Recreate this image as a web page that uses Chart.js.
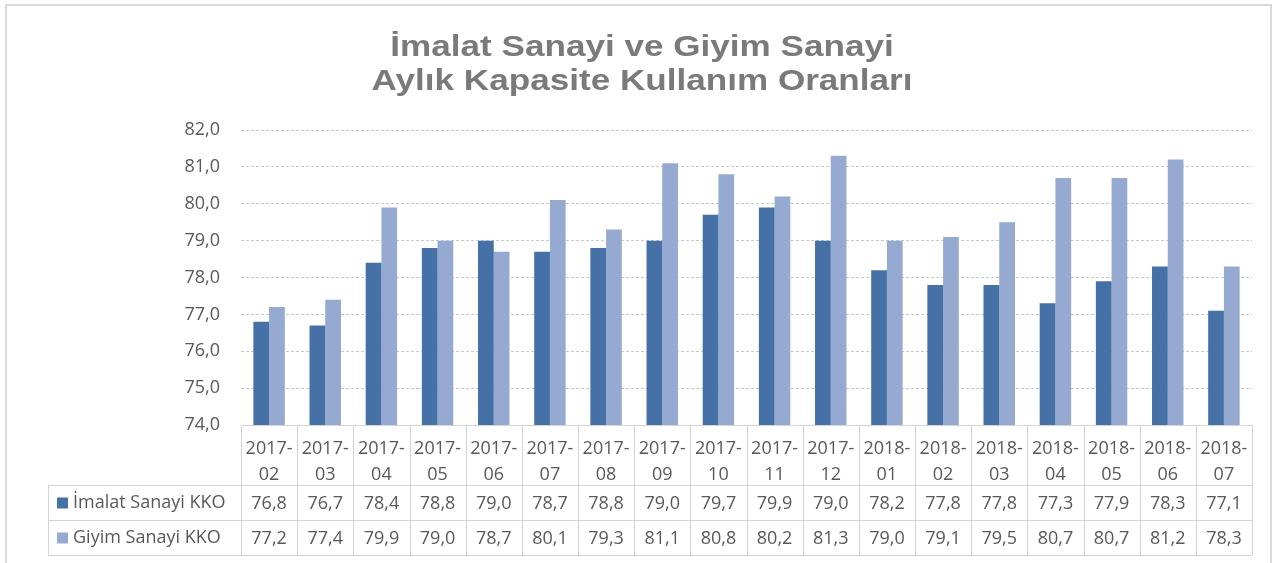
<!DOCTYPE html>
<html><head><meta charset="utf-8">
<script src="https://cdn.jsdelivr.net/npm/chart.js@4.4.1/dist/chart.umd.min.js"></script>
<style>html,body{margin:0;padding:0;background:#fff}#w{width:1278px;height:563px}</style>
</head><body><div id="w"><canvas id="c" width="1278" height="563"></canvas></div>
<script>
const titleLines = ['İmalat Sanayi ve Giyim Sanayi', 'Aylık Kapasite Kullanım Oranları'];
const categories = ['2017-02','2017-03','2017-04','2017-05','2017-06','2017-07','2017-08','2017-09','2017-10','2017-11','2017-12','2018-01','2018-02','2018-03','2018-04','2018-05','2018-06','2018-07'];
const imalatKKO = [76.8,76.7,78.4,78.8,79.0,78.7,78.8,79.0,79.7,79.9,79.0,78.2,77.8,77.8,77.3,77.9,78.3,77.1];
const giyimKKO = [77.2,77.4,79.9,79.0,78.7,80.1,79.3,81.1,80.8,80.2,81.3,79.0,79.1,79.5,80.7,80.7,81.2,78.3];
const seriesNames = ['İmalat Sanayi KKO', 'Giyim Sanayi KKO'];
const seriesColors = ['#4671A6', '#95A9D1'];
const yMin = 74, yMax = 82, yStep = 1;

const fmt = v => v.toFixed(1).replace('.', ',');
const TXT = '#595959';
const LINE = '#d4d4d4';
const FONT = '"Open Sans", "Liberation Sans", sans-serif';

const frame = {
  id: 'frame',
  afterDraw(chart) {
    const ctx = chart.ctx;
    ctx.save();
    ctx.strokeStyle = '#d9d9d9';
    ctx.lineWidth = 2;
    ctx.strokeRect(6, 5, 1265, 580);
    // title
    ctx.fillStyle = '#7a7a7a';
    ctx.font = 'bold 30px "Liberation Sans", Arial, sans-serif';
    ctx.textAlign = 'center';
    ctx.textBaseline = 'middle';
    const cy = [48, 82];
    titleLines.forEach((t, i) => {
      ctx.save();
      ctx.translate(642, cy[i]);
      ctx.scale(1.17, 1);
      ctx.fillText(t, 0, 0);
      ctx.restore();
    });
    ctx.restore();
  }
};

const table = {
  id: 'table',
  afterDraw(chart) {
    const ctx = chart.ctx;
    const xs = chart.scales.x;
    const ca = chart.chartArea;
    const n = categories.length;
    const w = (xs.right - xs.left) / n;
    const top = ca.bottom;
    const r1 = xs.bottom;
    const rowH = 35;
    const r2 = r1 + rowH, r3 = r2 + rowH;
    const legL = 48;
    ctx.save();
    ctx.strokeStyle = LINE;
    ctx.lineWidth = 1;
    ctx.beginPath();
    ctx.moveTo(xs.left, Math.round(top) + 0.5); ctx.lineTo(xs.right, Math.round(top) + 0.5);
    [r1, r2, r3].forEach(y => { ctx.moveTo(legL, Math.round(y) + 0.5); ctx.lineTo(xs.right, Math.round(y) + 0.5); });
    for (let i = 0; i <= n; i++) {
      const x = Math.round(xs.left + i * w) + 0.5;
      ctx.moveTo(x, top); ctx.lineTo(x, r3);
    }
    ctx.moveTo(legL + 0.5, r1); ctx.lineTo(legL + 0.5, r3);
    ctx.stroke();

    ctx.font = '18px ' + FONT;
    ctx.fillStyle = TXT;
    ctx.textBaseline = 'middle';
    const rows = [imalatKKO, giyimKKO];
    rows.forEach((vals, ri) => {
      const cy = r1 + rowH * ri + rowH / 2;
      ctx.textAlign = 'center';
      ctx.fillStyle = TXT;
      vals.forEach((v, i) => {
        ctx.fillText(fmt(v), xs.getPixelForValue(i), cy + 1);
      });
      ctx.fillStyle = seriesColors[ri];
      ctx.fillRect(57, cy - 5, 11, 11);
      ctx.fillStyle = TXT;
      ctx.textAlign = 'left';
      ctx.fillText(seriesNames[ri], 73, cy);
    });
    ctx.restore();
  }
};

new Chart(document.getElementById('c'), {
  type: 'bar',
  data: {
    labels: categories.map(c => { const p = c.split('-'); return [p[0] + '-', p[1]]; }),
    datasets: [
      { label: seriesNames[0], data: imalatKKO, backgroundColor: seriesColors[0], borderWidth: 0 },
      { label: seriesNames[1], data: giyimKKO, backgroundColor: seriesColors[1], borderWidth: 0 }
    ]
  },
  options: {
    responsive: false,
    animation: false,
    devicePixelRatio: 1,
    layout: { padding: { top: 130, right: 26, bottom: 78, left: 0 } },
    datasets: { bar: { categoryPercentage: 0.56, barPercentage: 1 } },
    plugins: { legend: { display: false }, title: { display: false }, tooltip: { enabled: false } },
    scales: {
      x: {
        grid: { display: false },
        border: { display: false },
        ticks: { color: TXT, font: { family: FONT, size: 18, lineHeight: 1.45 }, maxRotation: 0, autoSkip: false, padding: 3 },
        afterFit(s) { s.height = 60; }
      },
      y: {
        min: yMin, max: yMax,
        grid: { color: '#c8c8c8', drawTicks: false, lineWidth: 1 },
        border: { display: false, dash: [3, 2] },
        ticks: { stepSize: yStep, color: TXT, font: { family: FONT, size: 18 }, padding: 21, callback: v => fmt(v) },
        afterFit(s) { s.width = 241; }
      }
    }
  },
  plugins: [frame, table]
});
</script>
</body></html>
